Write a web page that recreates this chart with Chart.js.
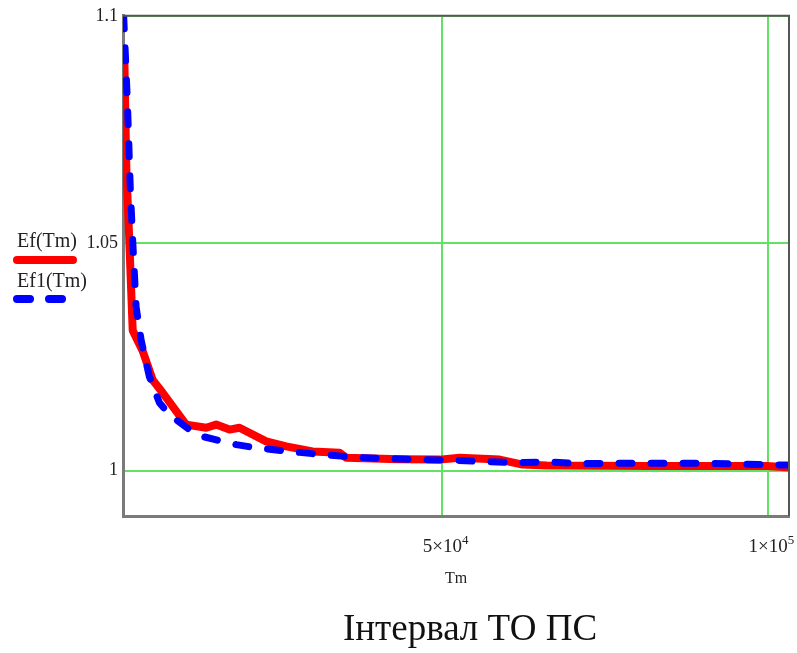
<!DOCTYPE html>
<html>
<head>
<meta charset="utf-8">
<title>Ef(Tm)</title>
<script src="https://cdn.jsdelivr.net/npm/chart.js@4.4.0/dist/chart.umd.min.js"></script>
<style>
  html, body { margin: 0; padding: 0; background: #fff; }
</style>
</head>
<body>
<canvas id="efChart" width="797" height="653"></canvas>
<script>
// Ef(Tm) - solid red curve
const efX = [1200, 1520, 1980, 2490, 4020, 5560, 7090, 10690, 13760, 15290, 17340, 18870, 22970, 26040, 30080, 34230, 35260, 43440, 49590, 52660, 58800, 62330, 66020, 81830, 99800, 102900];
const efY = [1.091, 1.0659, 1.0501, 1.0308, 1.0263, 1.0199, 1.0171, 1.0101, 1.0094, 1.0101, 1.0090, 1.0094, 1.0064, 1.0053, 1.0042, 1.0039, 1.0028, 1.0025, 1.0024, 1.0028, 1.0024, 1.0013, 1.0011, 1.0010, 1.0010, 1.0007];

// Ef1(Tm) - dashed blue curve
const ef1X = [1100, 1670, 2130, 2490, 2750, 3010, 3780, 5050, 6590, 8120, 11200, 13190, 16260, 18370, 21440, 26550, 31620, 36790, 41910, 46510, 51120, 56190, 61360, 66480, 71080, 77230, 89510, 102900];
const ef1Y = [1.1, 1.0812, 1.0615, 1.0505, 1.0433, 1.0360, 1.0287, 1.0206, 1.0149, 1.0123, 1.0090, 1.0075, 1.0064, 1.0057, 1.0050, 1.0042, 1.0035, 1.0029, 1.0026, 1.0024, 1.0023, 1.0020, 1.0017, 1.0019, 1.0015, 1.0016, 1.0016, 1.0012];

const seriesNames = ['Ef(Tm)', 'Ef1(Tm)'];
const xTicks = [50000, 100000];
const xTickBase = ['5×10', '1×10'];
const xTickExp = ['4', '5'];
const yTicks = [1, 1.05, 1.1];
const yTickLabels = ['1', '1.05', '1.1'];
const xTitle = 'Tm';
const caption = 'Інтервал ТО ПС';

const serif = '"Liberation Serif", "Times New Roman", serif';
const gridGreen = '#62e262';

function toPoints(xs, ys) {
  return xs.map((x, i) => ({ x: x, y: ys[i] }));
}

// frame, x tick labels with exponents, side legend and caption
const decorations = {
  id: 'decorations',
  afterDraw(chart) {
    const ctx = chart.ctx;
    const area = chart.chartArea;
    const xs = chart.scales.x;
    ctx.save();

    // thin frame on top and right
    ctx.strokeStyle = '#555';
    ctx.lineWidth = 2;
    ctx.beginPath();
    ctx.moveTo(area.left, area.top);
    ctx.lineTo(area.right, area.top);
    ctx.lineTo(area.right, area.bottom);
    ctx.stroke();

    // x tick labels: mantissa centred on the tick, exponent raised
    ctx.fillStyle = '#222';
    ctx.textAlign = 'left';
    ctx.textBaseline = 'alphabetic';
    xTicks.forEach((v, i) => {
      const px = xs.getPixelForValue(v);
      ctx.font = '19px ' + serif;
      const w = ctx.measureText(xTickBase[i]).width;
      ctx.fillText(xTickBase[i], px - w / 2, area.bottom + 36);
      ctx.font = '13px ' + serif;
      ctx.fillText(xTickExp[i], px + w / 2, area.bottom + 28);
    });

    // legend entries
    const rows = [{ textY: 247, lineY: 260 }, { textY: 287, lineY: 299 }];
    chart.data.datasets.forEach((ds, i) => {
      const r = rows[i];
      ctx.font = '20px ' + serif;
      ctx.fillStyle = '#222';
      ctx.textAlign = 'left';
      ctx.textBaseline = 'alphabetic';
      ctx.fillText(ds.label, 17, r.textY);
      ctx.strokeStyle = ds.borderColor;
      ctx.lineWidth = 8;
      ctx.lineCap = 'round';
      ctx.setLineDash(ds.borderDash || []);
      ctx.beginPath();
      ctx.moveTo(17, r.lineY);
      ctx.lineTo(ds.borderDash ? 63 : 73, r.lineY);
      ctx.stroke();
      ctx.setLineDash([]);
    });

    // caption
    ctx.font = '37px ' + serif;
    ctx.fillStyle = '#111';
    ctx.textAlign = 'center';
    ctx.textBaseline = 'middle';
    ctx.fillText(caption, 470, 630);
    ctx.restore();
  }
};

const ctx = document.getElementById('efChart').getContext('2d');
new Chart(ctx, {
  type: 'line',
  data: {
    datasets: [{
      label: seriesNames[0],
      data: toPoints(efX, efY),
      borderColor: '#ff0000',
      borderWidth: 8,
      borderCapStyle: 'round',
      borderJoinStyle: 'round',
      pointRadius: 0,
      tension: 0,
      fill: false,
      order: 1
    }, {
      label: seriesNames[1],
      data: toPoints(ef1X, ef1Y),
      borderColor: '#0000ff',
      borderWidth: 7,
      borderDash: [13, 19],
      borderCapStyle: 'round',
      borderJoinStyle: 'round',
      pointRadius: 0,
      tension: 0,
      fill: false,
      order: 0
    }]
  },
  options: {
    responsive: false,
    animation: false,
    layout: {
      padding: { left: 0, right: 8, top: 14, bottom: 57 }
    },
    plugins: {
      legend: { display: false },
      tooltip: { enabled: false }
    },
    scales: {
      x: {
        type: 'linear',
        min: 1000,
        max: 103200,
        afterBuildTicks: function(scale) {
          scale.ticks = xTicks.map(v => ({ value: v }));
        },
        afterFit: function(scale) {
          scale.height = 80;
          scale.paddingLeft = 0;
          scale.paddingRight = 0;
        },
        ticks: { display: false },
        grid: {
          color: gridGreen,
          lineWidth: 2,
          drawTicks: false
        },
        border: { color: '#7a7a7a', width: 3 },
        title: {
          display: true,
          text: xTitle,
          color: '#222',
          font: { family: serif, size: 16 },
          padding: { top: 0, bottom: 8 }
        }
      },
      y: {
        type: 'linear',
        min: 0.99,
        max: 1.1,
        afterBuildTicks: function(scale) {
          scale.ticks = yTicks.map(v => ({ value: v }));
        },
        afterFit: function(scale) {
          scale.width = 123;
        },
        ticks: {
          autoSkip: false,
          padding: 5,
          color: '#222',
          font: { family: serif, size: 18 },
          callback: function(value) {
            const i = yTicks.findIndex(t => Math.abs(t - value) < 1e-9);
            return i >= 0 ? yTickLabels[i] : '';
          }
        },
        grid: {
          color: gridGreen,
          lineWidth: 2,
          drawTicks: false
        },
        border: { color: '#7a7a7a', width: 3 }
      }
    }
  },
  plugins: [decorations]
});
</script>
</body>
</html>
